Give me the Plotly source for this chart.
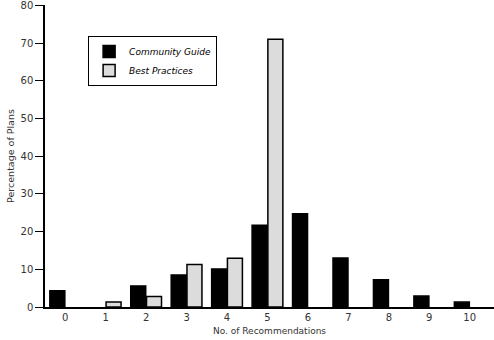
import plotly.graph_objects as go

categories = [0, 1, 2, 3, 4, 5, 6, 7, 8, 9, 10]
community_guide = [4.3, None, 5.6, 8.5, 10.1, 21.7, 24.7, 13.0, 7.2, 2.9, 1.3]
best_practices = [None, 1.3, 2.8, 11.3, 12.9, 71.0, None, None, None, None, None]
y_ticks = [0, 10, 20, 30, 40, 50, 60, 70, 80]

fig = go.Figure()
fig.add_trace(go.Bar(
    x=categories, y=community_guide, name="<i>Community Guide</i>",
    marker=dict(color="#000000", line=dict(color="#000000", width=1.5)),
))
fig.add_trace(go.Bar(
    x=categories, y=best_practices, name="<i>Best Practices</i>",
    marker=dict(color="#dcdcdc", line=dict(color="#000000", width=1.5)),
))

font = "Verdana, DejaVu Sans, sans-serif"
fig.update_layout(
    width=494, height=340,
    margin=dict(l=45, r=0, t=5, b=33),
    barmode="group", bargap=0.22, bargroupgap=0.05,
    plot_bgcolor="white", paper_bgcolor="white",
    font=dict(family=font, size=10, color="#333333"),
    showlegend=True,
    legend=dict(
        x=0.096, y=0.897, xanchor="left", yanchor="top",
        bordercolor="#000000", borderwidth=1, bgcolor="white",
        font=dict(family=font, size=9, color="#000000"),
        tracegroupgap=1,
    ),
    xaxis=dict(
        range=[-0.5, 10.6], tickmode="array", tickvals=categories,
        ticktext=[str(c) for c in categories],
        showline=True, linecolor="#000000", linewidth=1.5,
        showgrid=False, zeroline=False, ticks="",
        title=dict(text="No. of Recommendations", font=dict(size=9), standoff=6),
    ),
    yaxis=dict(
        range=[0, 80.1], tickmode="array", tickvals=y_ticks,
        showline=True, linecolor="#000000", linewidth=1.5,
        showgrid=False, zeroline=False, ticks="outside", ticklen=8,
        tickcolor="#000000", ticklabeloverflow="allow",
        title=dict(text="Percentage of Plans", font=dict(size=9.5), standoff=4),
    ),
)

fig.write_html("out.html")
